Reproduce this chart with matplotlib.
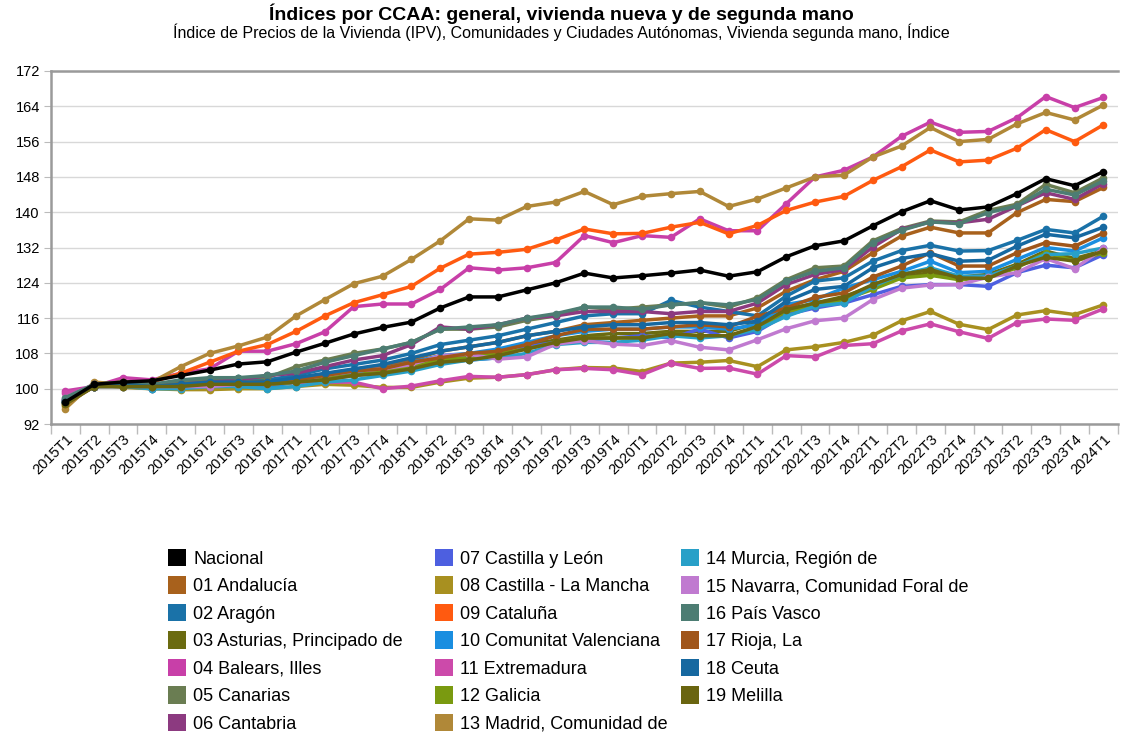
import numpy as np
import matplotlib
matplotlib.use("Agg")
import matplotlib.pyplot as plt
from matplotlib.patches import Patch

plt.rcParams['font.family'] = ['Liberation Sans', 'DejaVu Sans']

# quarters 2015T1 .. 2024T1
quarters = [f"{y}T{q}" for y in range(2015, 2024) for q in range(1, 5)] + ["2024T1"]

names = ["Nacional", "01 Andalucía", "02 Aragón", "03 Asturias, Principado de",
         "04 Balears, Illes", "05 Canarias", "06 Cantabria", "07 Castilla y León",
         "08 Castilla - La Mancha", "09 Cataluña", "10 Comunitat Valenciana",
         "11 Extremadura", "12 Galicia", "13 Madrid, Comunidad de",
         "14 Murcia, Región de", "15 Navarra, Comunidad Foral de", "16 País Vasco",
         "17 Rioja, La", "18 Ceuta", "19 Melilla"]

colors = ["#000000", "#a8611c", "#1a72a8", "#6b6b10", "#c83fa8", "#6a7d52",
          "#8c3a80", "#4d5fe0", "#a89020", "#ff5a10", "#1a8ee0", "#cc4aaa",
          "#7a9a10", "#b08838", "#28a0c8", "#c07ad0", "#4d7d73", "#a0561a",
          "#1668a0", "#6a6510"]

nacional = [97, 101, 101.5, 101.8, 103, 104.2, 105.6, 106.1, 108.3, 110.3, 112.4, 113.9, 115.1,
            118.3, 120.8, 120.8, 122.4, 124.0, 126.2, 125.1, 125.6, 126.2, 126.9, 125.5, 126.5,
            129.9, 132.4, 133.5, 136.9, 140.1, 142.6, 140.5, 141.2, 144.2, 147.6, 146.0, 149.2]
andalucia = [97, 100.5, 101, 100.5, 101, 101.5, 101.5, 101, 102, 103, 104, 105, 106.5,
             108.5, 109.5, 110.5, 112, 113, 114.5, 115, 115.5, 116, 116.5, 116.5, 118.3,
             122.1, 124.7, 126.6, 130.8, 134.6, 136.6, 135.3, 135.3, 139.9, 142.9, 142.4, 145.6]
aragon = [97.5, 101, 101, 100.5, 101.5, 102, 102.5, 102, 103, 104.5, 105.5, 106.5, 108,
          110, 111, 112, 113.5, 115, 116.5, 117, 117, 120, 118.5, 117.5, 116.5,
          121, 124.4, 125.1, 128.9, 131.3, 132.5, 131.2, 131.3, 133.6, 136.1, 135.3, 139.1]
asturias = [97, 100.5, 101, 100.5, 101, 101.5, 101.5, 101.5, 102, 103, 103.5, 104.5, 105.5,
            107, 107.5, 108.5, 110, 111, 112, 112.5, 112.5, 113, 113, 113, 114.9,
            117.9, 119.4, 120.9, 123.2, 125.3, 126.3, 125.3, 125.9, 128.2, 131.2, 129.5, 131.3]
balears = [99.5, 100.5, 102.5, 102, 103.5, 104.5, 108.5, 108.5, 110.2, 112.9, 118.6, 119.2, 119.2,
           122.5, 127.4, 126.9, 127.4, 128.6, 134.7, 133.1, 134.7, 134.3, 138.5, 135.8, 135.8,
           141.9, 148, 149.5, 152.5, 157.2, 160.4, 158.1, 158.3, 161.4, 166.2, 163.7, 166]
canarias = [97.5, 101, 101.5, 101, 101.5, 102, 102.5, 102.5, 105, 106.5, 108, 109, 110.5,
            113.5, 113.5, 114, 115.5, 116.5, 118.5, 118, 118.5, 119, 119.5, 118.5, 120.6,
            124.7, 127.4, 127.8, 133.5, 136.3, 138, 137.8, 140.4, 141.8, 146.3, 144.4, 147.8]
cantabria = [97, 100.5, 101, 100.5, 101, 101.5, 102, 103, 103.5, 105, 106.5, 107.5, 110,
             114, 113.5, 114.5, 116, 116.5, 117.5, 117.5, 117.5, 117, 117.5, 117.5, 119.4,
             123.6, 125.9, 127, 132.1, 136.1, 137.8, 137.6, 138.4, 141.4, 144.4, 142.9, 146.5]
cyl = [97.5, 100.5, 100.5, 100, 100.5, 100.5, 101, 100.5, 101.5, 102, 103, 103.5, 104.5,
       106, 106.5, 107, 109.5, 110.5, 111, 111.5, 112, 111.5, 113.5, 111.5, 113,
       116.8, 118.3, 119.4, 121.3, 123.2, 123.6, 123.6, 123.2, 126.3, 128, 127.4, 130.4]
clm = [96, 101, 100.3, 100, 99.8, 99.8, 100, 100, 100.5, 101, 100.8, 100.3, 100.3,
       101.5, 102.4, 102.6, 103.2, 104.3, 104.8, 104.7, 103.9, 105.8, 106, 106.4, 105,
       108.8, 109.5, 110.5, 112.1, 115.4, 117.5, 114.6, 113.4, 116.7, 117.7, 116.8, 119]
cataluna = [97.5, 101, 101.5, 101.5, 103.5, 106, 108.5, 110, 113, 116.5, 119.5, 121.3, 123.2,
            127.3, 130.5, 130.9, 131.6, 133.7, 136.2, 135.1, 135.2, 136.6, 137.7, 135.1, 137,
            140.4, 142.3, 143.6, 147.2, 150.3, 154.1, 151.4, 151.8, 154.5, 158.7, 156, 159.8]
valenciana = [97.5, 100.5, 101, 100, 101, 101, 101, 100.5, 101.5, 102.5, 103.5, 104.5, 106,
              107.5, 108, 109, 110.5, 112, 113, 113.5, 113.5, 114, 114, 113.5, 114.5,
              119.1, 120.2, 122.8, 124.7, 126.6, 128.9, 126.3, 126.6, 129.3, 132, 131.2, 134.2]
extremadura = [99, 100.5, 101, 100.5, 100.8, 101, 101, 101, 101.5, 101.5, 101.5, 100, 100.6,
               101.8, 102.8, 102.6, 103.2, 104.3, 104.6, 104.3, 103.2, 105.8, 104.6, 104.7, 103.3,
               107.5, 107.2, 109.8, 110.2, 113.1, 114.7, 112.9, 111.4, 115, 115.8, 115.5, 118.1]
galicia = [97, 100.5, 101, 100.5, 101, 101, 101.5, 101, 101.5, 102.5, 103, 104, 105,
           106.5, 107, 108, 109, 110.5, 111.5, 111.5, 111.5, 112.5, 112, 112, 113.8,
           117.5, 118.7, 120.2, 122.5, 125.1, 125.7, 124.7, 125.1, 127.4, 130.8, 128.9, 130.8]
madrid = [95.5, 101.5, 101, 101.5, 105, 108, 109.7, 111.7, 116.5, 120.2, 123.8, 125.5, 129.3,
          133.5, 138.5, 138.2, 141.3, 142.3, 144.7, 141.7, 143.6, 144.2, 144.7, 141.3, 143,
          145.5, 148, 148.4, 152.5, 155, 159.2, 156, 156.5, 160, 162.6, 160.9, 164.3]
murcia = [97, 100.5, 100.5, 100, 100, 100.5, 100.5, 100, 100.5, 101.5, 102, 103, 104,
          105.5, 106.5, 107, 108, 110, 110.5, 110.5, 111, 112, 111.5, 112, 113.4,
          116.4, 118.7, 119.4, 123.2, 125.9, 127.4, 125.5, 125.5, 127.8, 130.4, 130.6, 131.9]
navarra = [98, 101, 101, 100.5, 100.5, 100.5, 101, 101, 102, 103, 104, 104.5, 105.5,
           107.5, 107.8, 106.7, 107.2, 110.1, 110.9, 110.1, 109.8, 110.9, 109.4, 108.8, 111.1,
           113.6, 115.4, 116, 120.2, 122.8, 123.5, 123.6, 125.3, 126.3, 129.5, 127.2, 131.8]
pais_vasco = [98, 101, 101.5, 101, 102, 102.5, 102.5, 103, 104, 106, 107.5, 109, 110.5,
              113.5, 114, 114.5, 116, 117, 118.5, 118.5, 118, 119, 119.5, 119, 120.2,
              124.4, 126.6, 127.4, 133.1, 135.9, 137.8, 137.4, 139.9, 141.4, 145.2, 143.9, 147.1]
rioja = [96.5, 100.5, 100.5, 100.5, 101, 101, 101.5, 101.5, 102, 103, 104, 104.5, 106,
         107, 108, 108.5, 110, 112, 113.5, 113.5, 113.5, 114, 114.5, 114, 116.4,
         118.3, 120.7, 121.7, 125.3, 127.8, 130.8, 127.8, 127.8, 130.8, 133.1, 132.3, 135.3]
ceuta = [97, 100.5, 101, 100.5, 101, 101.5, 101.5, 101.5, 102.5, 103.5, 104.5, 105.5, 107,
         108.5, 109.5, 110.5, 112, 113, 114, 114.5, 114.5, 115, 115, 114.5, 115.3,
         119.8, 122.5, 123.2, 127.4, 129.5, 130.6, 128.9, 129.1, 132.3, 135, 134.2, 136.6]
melilla = [96.5, 100.5, 100.5, 100.5, 100.5, 101, 101, 101, 101.5, 102, 103, 103.5, 104.5,
           106, 106.5, 107.5, 109, 110.5, 111.5, 111.5, 111.5, 112.5, 112, 112, 114.1,
           117.9, 119.4, 120.6, 123.6, 125.9, 127, 125.1, 125, 127.8, 129.8, 128.9, 131.2]

series = [nacional, andalucia, aragon, asturias, balears, canarias, cantabria, cyl, clm,
          cataluna, valenciana, extremadura, galicia, madrid, murcia, navarra, pais_vasco,
          rioja, ceuta, melilla]

fig = plt.figure(figsize=(11.23, 7.34), dpi=100)
ax = fig.add_axes([0.0454, 0.4223, 0.95, 0.481])

x = np.arange(len(quarters))
# draw the cluster first, nacional on top
order = list(range(1, len(series))) + [0]
for k in order:
    ax.plot(x, series[k], color=colors[k], lw=2.5, marker='o', ms=5.5,
            markeredgewidth=0, zorder=3 + (k == 0))

ax.set_ylim(92, 172)
ax.set_yticks(np.arange(92, 173, 8))
ax.set_xlim(-0.5, len(quarters) - 0.5)
ax.set_xticks(x)
ax.set_xticklabels(quarters, rotation=45, ha='right', rotation_mode='anchor', fontsize=10.5)
ax.set_xticks(np.arange(-0.5, len(quarters), 1), minor=True)
ax.tick_params(axis='x', which='major', length=0, pad=6)
ax.tick_params(axis='x', which='minor', length=7, color='#bbbbbb', width=1)
ax.tick_params(axis='y', length=5, color='#bbbbbb', labelsize=10.5, pad=3)
ax.grid(axis='y', color='#d8d8d8', lw=1)
ax.set_axisbelow(True)
ax.spines['right'].set_visible(False)
for s in ['left', 'bottom', 'top']:
    ax.spines[s].set_color('#9a9a9a')
    ax.spines[s].set_linewidth(1.8)

fig.text(0.5, 0.981, "Índices por CCAA: general, vivienda nueva y de segunda mano",
         ha='center', va='center', fontsize=14, fontweight='bold')
fig.text(0.5, 0.956, "Índice de Precios de la Vivienda (IPV), Comunidades y Ciudades Autónomas, "
         "Vivienda segunda mano, Índice", ha='center', va='center', fontsize=11.5)

# legend in three columns placed like the reference
col_items = [range(0, 7), range(7, 14), range(14, 20)]
col_x = [168, 435, 681]
for idx, cx in zip(col_items, col_x):
    hs = [Patch(facecolor=colors[i], edgecolor='none') for i in idx]
    ls = [names[i] for i in idx]
    fig.legend(hs, ls, loc='upper left', bbox_to_anchor=(cx / 1123, 1 - 549 / 734),
               ncol=1, frameon=False, fontsize=13, handlelength=1.0, handleheight=1.1,
               handletextpad=0.4, labelspacing=0.48, borderaxespad=0, borderpad=0)

fig.savefig("out.png", dpi=100)
